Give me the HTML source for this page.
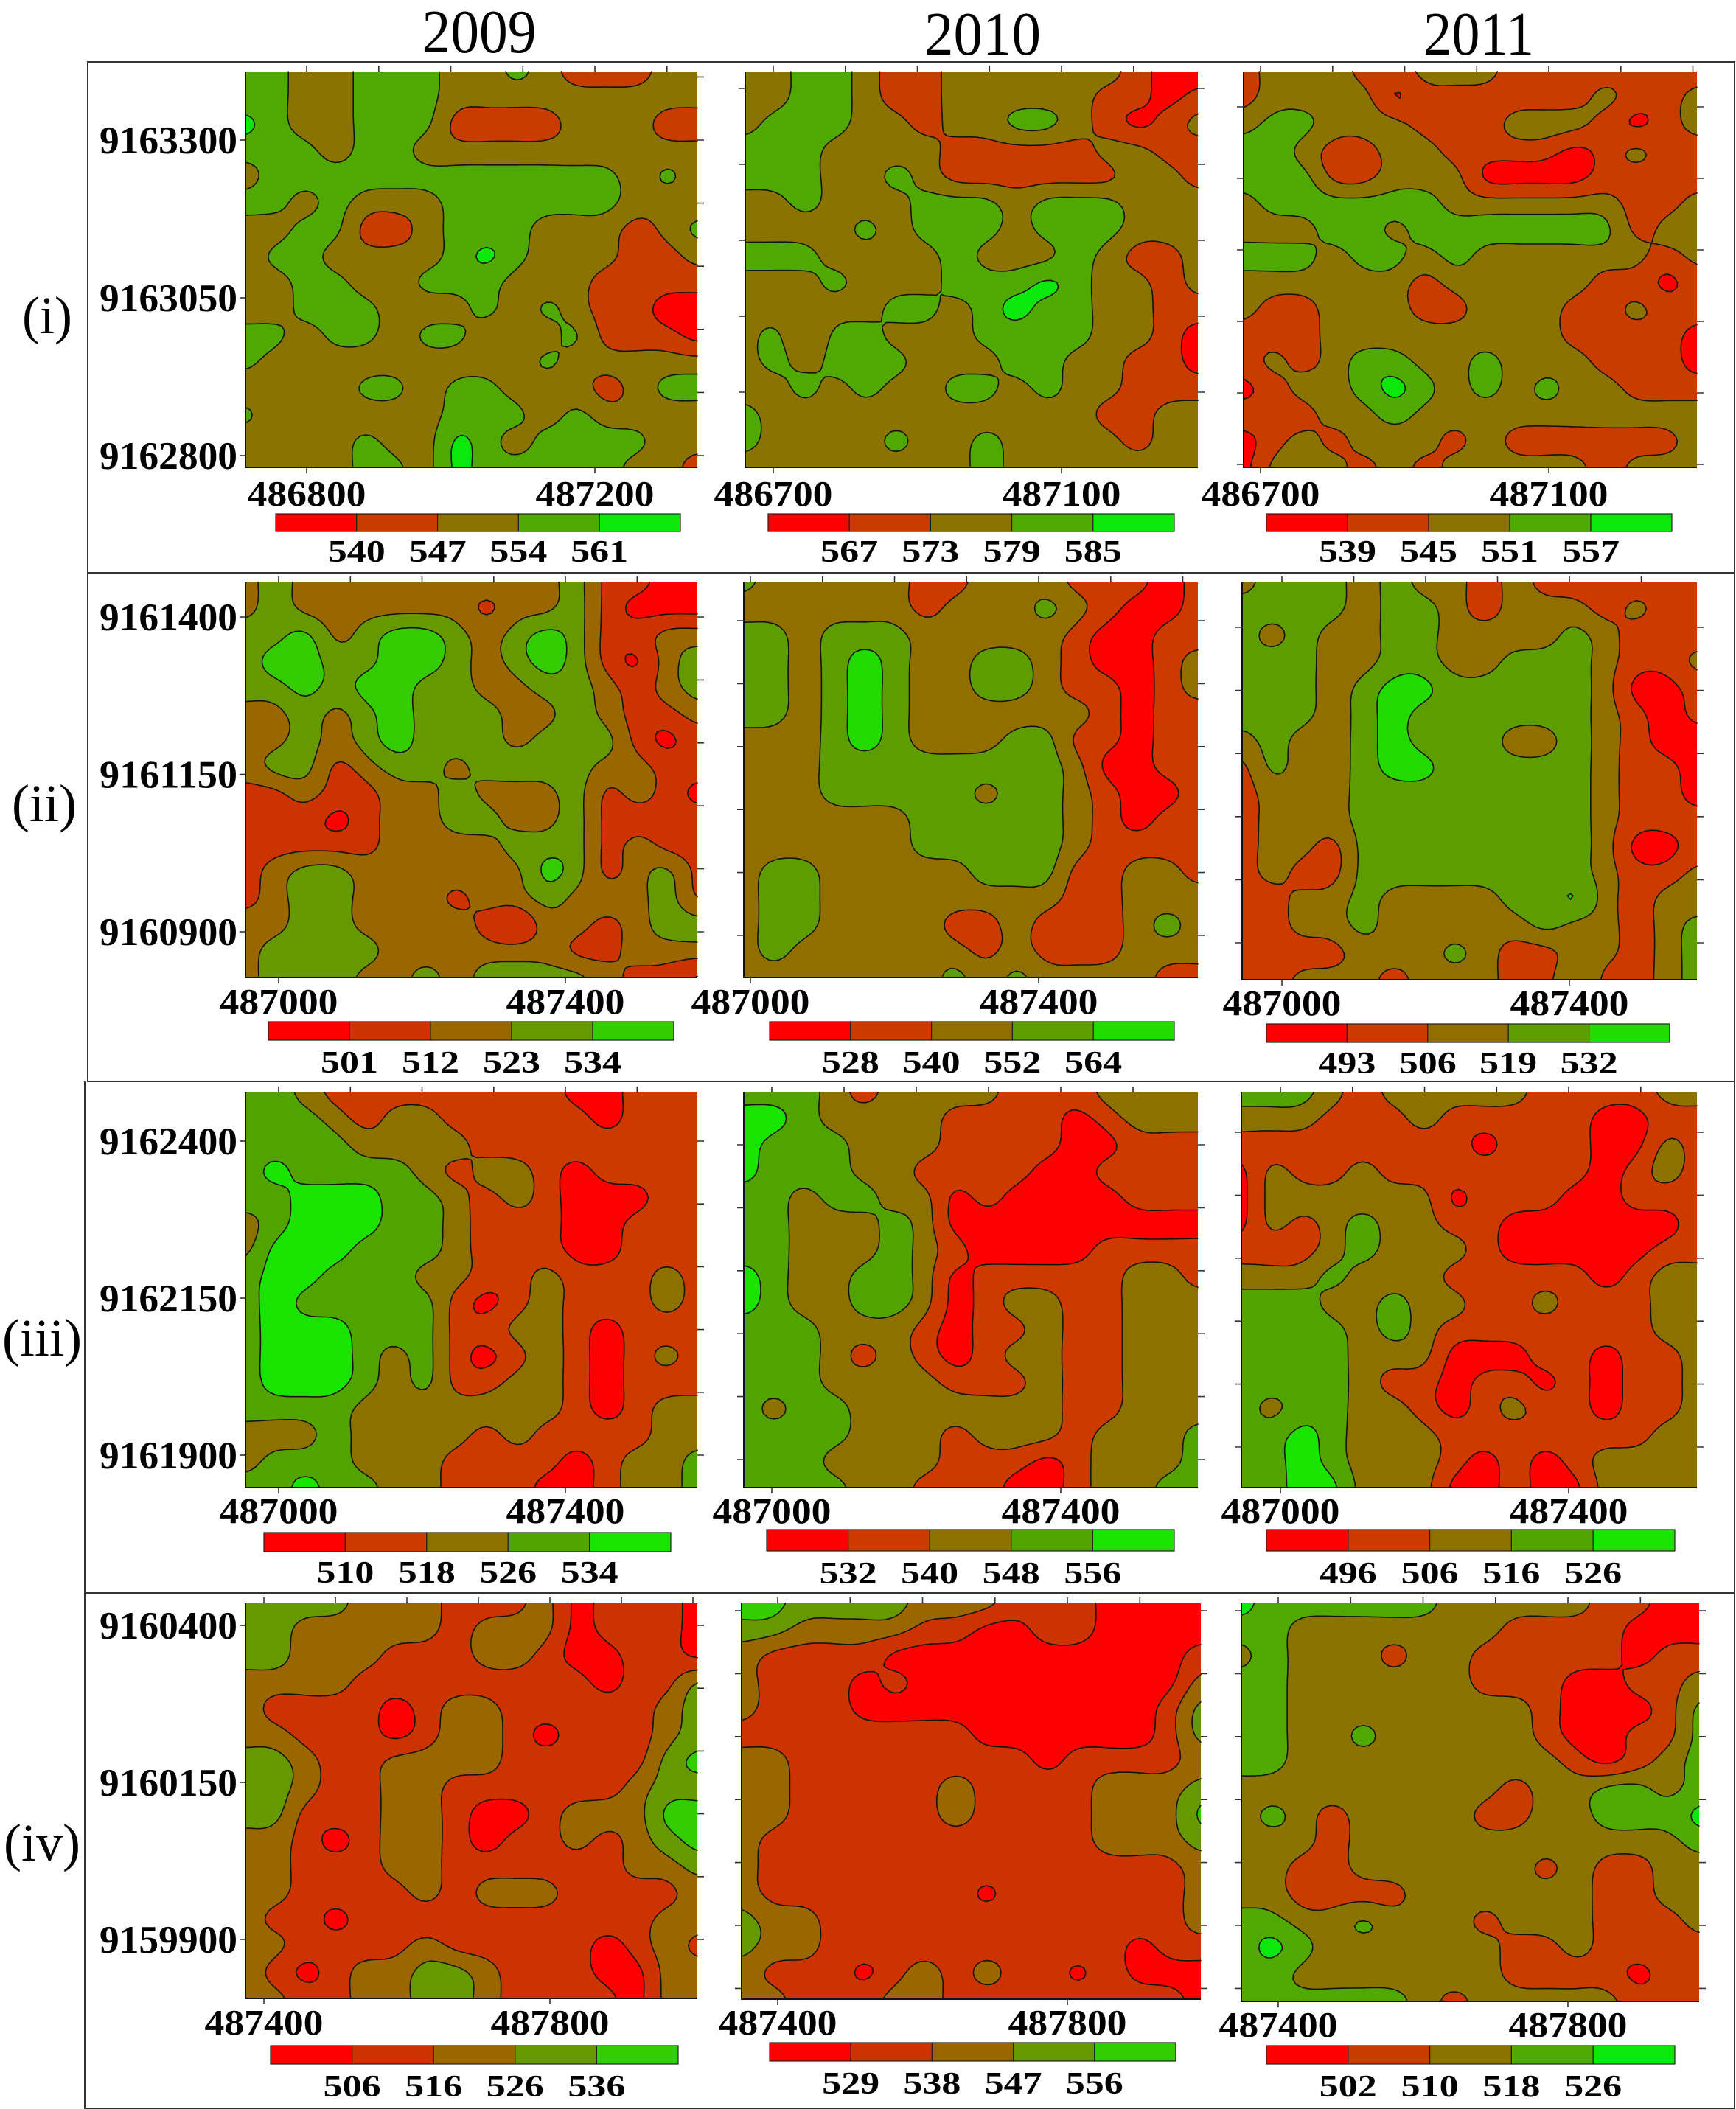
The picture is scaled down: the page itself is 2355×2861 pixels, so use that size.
<!DOCTYPE html>
<html lang="en">
<head>
<meta charset="utf-8">
<title>Contour maps 2009–2011</title>
<style>
html,body{margin:0;padding:0;background:#fff;}
svg{display:block;}
text{font-family:"Liberation Serif",serif;fill:#000;}
.tick-label{font-weight:bold;}
</style>
</head>
<body>
<svg id="figure" xmlns="http://www.w3.org/2000/svg" width="2355" height="2861" viewBox="0 0 2355 2861">
<rect x="0" y="0" width="2355" height="2861" fill="#fff"/>
<g stroke="#333" stroke-width="2" fill="none">
<path d="M119 84H2353V777H119Z"/>
<path d="M119 777V1467H2353V777"/>
<path d="M115 1467V2161H2353V1467"/>
<path d="M115 2161V2860H2353V2161"/>
</g>
<text x="650" y="71" font-size="84" text-anchor="middle" textLength="155" lengthAdjust="spacingAndGlyphs">2009</text>
<text x="1333" y="74" font-size="84" text-anchor="middle" textLength="158" lengthAdjust="spacingAndGlyphs">2010</text>
<text x="2006" y="74" font-size="84" text-anchor="middle" textLength="150" lengthAdjust="spacingAndGlyphs">2011</text>
<text x="64" y="452" font-size="72" text-anchor="middle">(i)</text>
<text x="60" y="1114" font-size="72" text-anchor="middle">(ii)</text>
<text x="57" y="1839" font-size="72" text-anchor="middle">(iii)</text>
<text x="57" y="2524" font-size="72" text-anchor="middle">(iv)</text>
</svg>
<script>
const values_i_2009=[
[557,557,550,550,557,557,557,550,550,557,550,543,543,543,550,550],
[557,557,550,550,557,557,557,550,550,550,550,550,550,550,550,550],
[564,557,550,550,557,557,557,543,543,543,543,550,550,550,543,543],
[557,557,557,550,557,557,550,550,550,550,550,550,550,550,550,550],
[550,557,557,557,557,557,557,557,557,557,557,557,557,550,557,550],
[557,557,550,557,550,550,550,557,557,557,557,557,557,550,550,550],
[550,550,557,557,543,543,550,557,557,557,550,550,550,543,550,557],
[550,557,557,550,550,550,550,557,564,557,550,550,550,543,543,550],
[550,550,557,557,550,550,557,557,557,550,550,550,543,543,543,543],
[550,550,557,557,557,550,550,550,557,550,557,550,543,543,536,536],
[557,557,550,557,557,550,557,557,550,550,550,557,543,543,543,536],
[557,550,550,550,550,550,550,550,550,550,557,550,550,550,550,550],
[550,550,550,550,557,557,550,557,557,550,550,550,543,550,557,557],
[557,550,550,550,550,550,550,557,557,557,550,557,550,550,550,550],
[550,550,550,550,557,550,550,564,557,550,557,557,557,557,550,550],
[550,550,550,550,557,557,550,564,557,557,557,557,557,550,550,543]];
const values_i_2010=[
[576,576,582,582,576,570,570,576,576,576,576,576,576,570,564,564],
[576,576,582,582,576,570,570,576,576,576,576,576,570,570,564,570],
[576,582,582,582,576,576,570,576,576,582,582,576,570,564,570,576],
[582,582,582,576,576,576,576,570,570,570,570,570,576,576,570,570],
[582,582,582,576,576,582,576,570,570,570,570,570,570,576,576,570],
[576,576,582,576,576,576,582,582,582,576,582,582,582,576,576,576],
[576,576,576,576,582,576,582,582,582,576,582,582,582,576,576,576],
[582,582,582,576,576,576,576,582,576,576,576,582,576,570,570,576],
[576,576,576,582,576,576,576,582,582,582,588,582,576,576,570,576],
[576,576,576,576,576,582,582,576,582,588,582,582,576,576,570,570],
[576,582,570,582,582,576,576,576,582,582,582,582,576,576,570,564],
[576,582,576,582,582,582,576,576,576,582,582,576,576,570,570,564],
[576,576,582,576,582,576,576,582,582,576,582,576,576,570,570,570],
[582,576,576,576,576,576,576,576,576,576,576,576,570,570,576,576],
[582,576,576,576,576,582,576,576,582,576,576,576,576,570,576,576],
[576,576,576,576,576,576,576,576,582,576,576,576,576,576,576,576]];
const values_i_2011=[
[542,548,548,548,542,542,548,548,548,542,542,542,542,542,542,542],
[542,548,548,548,548,536,542,542,542,542,542,542,548,542,542,548],
[548,554,554,548,548,548,542,542,542,548,548,548,542,536,542,548],
[554,554,548,542,542,548,548,542,542,542,542,536,542,548,542,542],
[554,554,554,542,542,548,548,548,536,536,536,536,542,542,542,542],
[548,554,554,554,554,554,554,548,548,548,548,548,548,542,542,548],
[548,548,548,554,554,548,554,554,554,554,554,554,554,542,548,548],
[554,554,554,548,554,554,548,554,548,548,548,548,548,548,542,548],
[548,548,548,548,548,548,542,548,548,548,548,548,542,542,536,542],
[548,542,542,548,548,548,542,542,548,548,548,542,542,548,542,542],
[542,542,542,548,548,548,548,548,548,548,548,542,542,542,542,536],
[542,548,542,548,554,554,548,548,554,548,548,548,542,542,542,536],
[536,542,548,548,554,560,554,548,554,548,554,548,548,542,542,542],
[542,542,542,548,548,554,548,548,548,548,548,548,548,548,548,548],
[536,542,548,542,548,548,548,542,548,542,542,542,542,542,542,548],
[536,548,548,548,542,548,542,548,548,548,548,548,542,548,548,548]];
const values_ii_2009=[
[518,529,518,518,518,518,518,518,518,518,518,529,507,507,496,496],
[518,529,518,518,518,518,518,518,507,518,518,529,507,496,496,496],
[529,529,540,518,529,540,540,529,518,529,540,529,507,507,518,518],
[529,540,540,529,529,540,540,529,518,529,540,529,507,496,518,529],
[529,529,540,529,540,540,529,529,518,518,529,529,518,507,518,529],
[518,518,529,518,529,540,529,529,529,518,518,529,518,507,507,518],
[518,518,529,518,529,540,529,529,529,518,529,529,529,507,496,507],
[518,529,529,507,518,529,529,518,529,529,529,529,518,518,507,507],
[507,507,518,507,507,518,518,529,518,518,518,529,507,518,507,496],
[507,507,507,496,507,518,518,529,529,518,518,529,507,507,507,507],
[507,507,507,507,507,518,518,518,518,529,529,529,507,518,507,507],
[507,518,529,529,518,518,518,518,518,518,540,529,507,518,529,507],
[507,518,529,529,518,518,518,507,518,518,529,518,518,518,529,507],
[518,518,529,529,518,518,518,518,507,496,518,518,507,518,529,529],
[518,529,529,529,529,518,518,518,518,518,518,507,507,518,518,518],
[518,529,529,529,518,518,529,518,529,529,529,529,518,507,507,496]];
const values_ii_2010=[
[558,546,546,546,546,546,534,534,546,546,546,534,534,534,522,534],
[546,546,546,546,546,546,534,546,546,546,558,546,534,522,522,534],
[558,558,546,558,558,558,546,546,546,546,546,534,522,522,534,534],
[558,558,546,558,570,558,546,546,558,558,546,534,522,522,534,546],
[558,558,546,558,570,558,546,546,558,558,546,534,534,522,534,546],
[558,558,546,558,570,558,546,546,546,546,546,546,534,522,534,534],
[546,546,546,558,570,558,546,546,546,558,558,534,534,522,534,534],
[546,546,546,558,558,558,558,558,558,558,558,546,522,522,534,534],
[546,546,546,558,558,558,558,558,546,558,558,546,534,522,522,534],
[546,546,546,546,546,546,558,558,558,558,558,546,534,522,534,534],
[546,546,546,546,546,546,558,558,558,558,558,546,534,534,534,534],
[546,558,558,546,546,546,546,546,558,558,558,534,534,546,546,534],
[546,558,558,546,546,546,546,546,546,546,546,534,534,546,546,546],
[546,558,558,546,546,546,546,534,534,546,534,534,534,546,558,546],
[546,558,546,546,546,546,546,546,534,546,534,534,534,546,546,546],
[546,546,546,546,546,546,546,558,546,558,546,546,546,546,534,534]];
const values_ii_2011=[
[512,525,525,525,512,525,512,512,499,512,499,499,499,499,499,499],
[525,525,525,525,512,525,525,512,499,512,512,512,499,512,499,499],
[525,512,525,512,512,525,525,512,512,512,512,525,512,499,499,499],
[525,525,525,512,512,525,525,512,512,525,525,525,512,499,499,512],
[525,525,525,512,525,538,538,525,525,525,525,525,512,486,486,499],
[525,525,525,512,525,538,525,525,525,525,525,525,512,499,486,499],
[512,525,512,512,525,538,525,525,525,512,512,525,512,499,486,486],
[499,525,512,512,525,538,538,525,525,525,525,525,512,499,499,486],
[499,512,512,512,525,525,525,525,525,525,525,525,512,499,499,486],
[499,512,512,512,525,525,525,525,525,525,525,525,512,499,499,499],
[499,512,512,499,525,525,525,525,525,525,525,525,512,486,486,499],
[499,512,499,499,525,525,525,525,525,525,525,525,512,499,499,512],
[499,499,512,512,525,512,512,512,512,525,525,538,512,499,512,512],
[499,499,512,512,525,512,512,512,512,512,525,512,512,499,512,525],
[499,499,499,499,512,512,512,525,512,499,499,512,512,499,512,525],
[499,499,512,512,512,499,512,512,512,499,499,525,499,499,512,525]];
const values_iii_2009=[
[530,530,522,514,514,514,514,514,514,514,514,506,506,514,514,514],
[530,530,530,522,514,522,522,514,514,514,514,514,506,514,514,514],
[530,530,530,530,522,522,522,522,514,514,514,514,514,514,514,514],
[530,538,530,530,530,530,522,514,522,522,514,506,514,514,514,514],
[530,530,538,538,538,530,530,522,514,522,514,506,506,506,514,514],
[522,530,538,538,538,530,530,522,514,514,514,506,506,514,514,514],
[522,538,538,538,530,530,530,522,514,514,514,506,506,514,514,514],
[530,538,538,530,530,530,522,522,514,514,522,514,514,514,522,514],
[530,538,530,530,530,530,530,514,506,514,522,514,514,514,522,514],
[530,538,538,538,530,530,530,514,514,522,522,514,506,514,514,514],
[530,538,538,538,530,522,530,514,506,514,522,514,506,514,522,514],
[530,538,538,538,530,522,530,514,514,522,522,514,506,514,514,514],
[530,530,530,530,522,522,522,522,522,522,522,514,506,514,522,522],
[522,522,522,530,522,522,522,522,514,522,514,514,514,514,522,522],
[522,530,530,530,522,522,522,514,514,514,514,506,514,522,522,530],
[530,530,538,530,530,522,522,514,514,514,506,506,514,522,522,530]];
const values_iii_2010=[
[552,552,552,544,536,544,544,544,544,536,536,536,544,544,544,544],
[560,560,552,544,544,544,544,536,536,536,536,528,536,544,544,544],
[560,552,552,552,544,544,544,536,536,536,536,528,528,536,536,536],
[560,552,552,552,544,544,536,536,536,536,528,528,536,536,536,536],
[552,552,544,552,552,544,544,528,536,528,528,528,528,536,536,536],
[552,552,544,544,544,552,544,528,528,528,528,528,528,528,528,528],
[552,552,544,544,544,552,544,536,528,528,528,528,536,536,536,536],
[560,552,544,544,552,552,544,528,536,536,536,536,536,544,544,536],
[560,552,544,544,552,552,544,528,536,544,544,536,536,544,544,544],
[552,552,552,544,544,544,536,528,536,536,544,536,536,544,544,544],
[552,552,552,544,536,544,536,528,536,544,544,536,536,544,544,544],
[552,552,552,544,544,544,544,536,536,536,544,536,536,544,544,544],
[552,544,552,552,544,544,544,544,544,544,544,536,536,544,544,544],
[552,552,552,552,544,544,544,536,544,544,544,536,544,544,544,552],
[552,552,552,544,544,544,544,536,536,536,528,536,544,544,544,552],
[552,552,552,552,544,544,536,536,536,528,528,536,544,544,552,552]];
const values_iii_2011=[
[521,521,521,511,501,511,511,511,511,511,501,501,501,501,511,511],
[511,511,511,501,501,501,511,501,501,501,501,501,491,491,501,501],
[501,501,501,501,501,501,501,501,491,501,501,501,491,491,511,501],
[491,511,501,501,511,501,501,501,501,501,501,501,491,501,511,501],
[491,511,511,511,511,511,511,491,501,501,501,491,491,501,501,501],
[491,511,501,511,521,511,511,501,501,491,491,491,491,491,491,501],
[501,501,501,511,521,511,511,511,501,491,491,491,491,491,501,501],
[511,511,511,521,511,511,511,501,501,501,501,501,491,501,511,511],
[521,521,521,511,511,521,511,511,501,501,511,501,501,501,511,511],
[521,521,521,521,511,521,511,501,501,501,501,501,501,501,511,511],
[521,521,521,521,511,511,511,491,491,491,501,501,491,501,501,511],
[521,521,521,521,511,501,501,491,501,501,491,501,491,501,501,511],
[521,511,521,521,511,511,501,491,501,511,501,501,491,501,501,511],
[521,521,531,521,511,511,511,501,501,501,501,501,501,501,511,511],
[521,521,531,521,511,511,511,501,491,501,491,501,511,511,511,511],
[521,521,531,531,511,511,511,491,491,501,491,491,511,511,511,511]];
const values_iv_2009=[
[531,531,531,531,521,521,521,511,511,511,521,501,511,511,511,501],
[531,531,521,521,521,521,521,511,521,521,521,501,511,511,511,501],
[531,531,521,521,521,511,511,511,521,521,511,501,501,511,511,501],
[521,521,521,521,511,511,511,511,511,511,511,511,501,511,511,531],
[521,511,511,511,511,501,511,521,521,511,511,511,511,511,521,531],
[521,521,511,511,511,501,511,521,521,511,501,511,511,511,521,531],
[531,531,521,511,511,521,521,521,521,511,511,511,511,511,531,541],
[531,531,521,511,511,521,521,511,511,511,511,511,511,521,531,531],
[531,531,511,511,511,521,521,511,501,501,511,521,521,521,541,541],
[521,521,511,501,511,521,521,511,501,511,511,521,511,521,531,541],
[521,521,511,511,511,521,521,511,511,511,511,511,511,521,521,531],
[521,521,511,511,511,511,521,511,521,521,521,511,511,511,511,521],
[521,511,511,501,511,511,511,511,511,511,511,511,511,511,521,521],
[521,521,511,511,511,511,521,511,511,511,511,511,501,511,521,511],
[521,511,501,511,521,521,531,531,521,511,511,511,501,501,521,521],
[521,521,511,511,521,521,531,531,521,511,511,511,511,501,521,521]];
const values_iv_2010=[
[561,561,552,552,552,552,543,543,543,534,534,534,525,525,525,525],
[552,552,543,543,543,543,534,534,525,525,534,534,525,525,525,525],
[543,534,534,534,534,525,525,525,525,525,525,525,525,525,525,534],
[543,534,534,534,525,534,525,525,525,525,525,525,525,525,525,543],
[543,534,534,534,525,525,525,525,525,525,525,525,525,525,534,552],
[534,534,534,534,534,534,534,534,525,525,525,525,525,525,534,552],
[543,543,534,534,534,534,534,534,534,534,525,534,534,534,534,543],
[543,543,534,534,534,534,534,543,534,534,534,534,543,543,543,552],
[543,543,534,534,534,534,534,543,534,534,534,534,543,543,543,561],
[543,534,534,534,534,534,534,534,534,534,534,534,543,543,543,552],
[543,534,534,534,534,534,534,534,534,534,534,534,534,534,534,543],
[543,534,534,534,534,534,534,534,525,534,534,534,534,534,534,543],
[552,543,543,534,534,534,534,534,534,534,534,534,534,534,534,543],
[552,543,543,534,534,534,534,534,534,534,534,534,534,525,534,534],
[543,534,534,534,525,534,543,534,543,534,534,525,534,525,525,525],
[543,543,534,534,534,543,543,534,534,534,534,534,534,534,534,525]];
const values_iv_2011=[
[530,522,522,522,522,522,522,514,514,514,514,514,506,506,498,498],
[522,522,514,514,514,514,514,514,514,506,506,506,506,498,498,498],
[514,522,514,514,514,506,514,514,506,506,506,506,506,498,506,506],
[522,522,514,514,514,514,514,514,506,506,506,498,498,506,506,514],
[522,522,514,514,514,514,514,514,514,514,506,498,498,498,506,522],
[522,522,514,514,522,514,514,514,514,514,506,498,498,506,506,522],
[522,522,514,514,514,514,514,514,514,514,514,506,498,506,514,522],
[514,514,514,514,514,514,514,514,514,506,514,514,522,522,514,522],
[514,522,514,506,514,514,514,514,506,506,514,514,522,522,522,530],
[514,514,514,506,514,514,514,514,514,514,514,514,514,514,514,522],
[514,514,506,506,514,514,514,514,514,514,506,514,506,506,514,514],
[514,514,506,506,506,506,514,514,514,514,514,514,506,506,514,514],
[522,522,514,514,522,514,514,514,506,514,514,514,506,506,506,514],
[522,530,522,514,514,514,514,514,514,506,506,514,506,506,506,506],
[522,522,514,514,514,514,514,514,514,506,506,506,506,498,506,506],
[522,522,522,522,522,522,514,506,514,514,514,514,514,506,506,506]];

const levels_i_2009=[540,547,554,561];
const levels_i_2010=[567,573,579,585];
const levels_i_2011=[539,545,551,557];
const levels_ii_2009=[501,512,523,534];
const levels_ii_2010=[528,540,552,564];
const levels_ii_2011=[493,506,519,532];
const levels_iii_2009=[510,518,526,534];
const levels_iii_2010=[532,540,548,556];
const levels_iii_2011=[496,506,516,526];
const levels_iv_2009=[506,516,526,536];
const levels_iv_2010=[529,538,547,556];
const levels_iv_2011=[502,510,518,526];

const eastingLabels_i_2009=[486800,487200];
const eastingLabels_i_2010=[486700,487100];
const eastingLabels_i_2011=[486700,487100];
const eastingLabels_ii=[487000,487400];
const eastingLabels_iii=[487000,487400];
const eastingLabels_iv=[487400,487800];
const northingLabels_i=[9163300,9163050,9162800];
const northingLabels_ii=[9161400,9161150,9160900];
const northingLabels_iii=[9162400,9162150,9161900];
const northingLabels_iv=[9160400,9160150,9159900];

// ---------- styling and layout (not data) ----------
const paletteA=['#ff0000','#c83c00','#8a7300','#4fa900','#0be80b'];
const paletteB=['#ff0000','#cc3a00','#916e00','#5c9e00','#22da00'];
const paletteC=['#ff0000','#cc3300','#996600','#669900','#33cc00'];
const paletteD=['#ff0000','#cc3a00','#8c7000','#52a300','#18e400'];

const panelLayout=[
{name:'i-2009',values:values_i_2009,levels:levels_i_2009,palette:paletteA,east:eastingLabels_i_2009,north:northingLabels_i,box:[333,946,97,634],ex:[416,807],ny:[190,618],lx:[374,923],ly:[697,721],xb:686,lb:762,left:true},
{name:'i-2010',values:values_i_2010,levels:levels_i_2010,palette:paletteA,east:eastingLabels_i_2010,north:northingLabels_i,box:[1011,1625,97,634],ex:[1049,1440],ny:[120,635],lx:[1042,1593],ly:[697,721],xb:686,lb:762},
{name:'i-2011',values:values_i_2011,levels:levels_i_2011,palette:paletteA,east:eastingLabels_i_2011,north:northingLabels_i,box:[1687,2302,97,634],ex:[1710,2101],ny:[145,630],lx:[1718,2268],ly:[697,721],xb:686,lb:762},
{name:'ii-2009',values:values_ii_2009,levels:levels_ii_2009,palette:paletteC,east:eastingLabels_ii,north:northingLabels_ii,box:[333,946,790,1326],ex:[378,767],ny:[837,1264],lx:[364,914],ly:[1386,1411],xb:1375,lb:1455,left:true},
{name:'ii-2010',values:values_ii_2010,levels:levels_ii_2010,palette:paletteB,east:eastingLabels_ii,north:northingLabels_ii,box:[1009,1625,790,1326],ex:[1018,1409],ny:[842,1269],lx:[1044,1593],ly:[1386,1411],xb:1375,lb:1455},
{name:'ii-2011',values:values_ii_2011,levels:levels_ii_2011,palette:paletteB,east:eastingLabels_ii,north:northingLabels_ii,box:[1685,2302,790,1329],ex:[1739,2129],ny:[851,1279],lx:[1718,2265],ly:[1389,1414],xb:1377,lb:1456},
{name:'iii-2009',values:values_iii_2009,levels:levels_iii_2009,palette:paletteD,east:eastingLabels_iii,north:northingLabels_iii,box:[333,946,1482,2018],ex:[378,767],ny:[1548,1974],lx:[358,910],ly:[2079,2105],xb:2066,lb:2147,left:true},
{name:'iii-2010',values:values_iii_2010,levels:levels_iii_2010,palette:paletteD,east:eastingLabels_iii,north:northingLabels_iii,box:[1009,1625,1482,2018],ex:[1047,1439],ny:[1553,1980],lx:[1040,1593],ly:[2075,2104],xb:2066,lb:2148},
{name:'iii-2011',values:values_iii_2011,levels:levels_iii_2011,palette:paletteD,east:eastingLabels_iii,north:northingLabels_iii,box:[1684,2302,1482,2018],ex:[1737,2128],ny:[1536,1963],lx:[1718,2272],ly:[2075,2104],xb:2066,lb:2148},
{name:'iv-2009',values:values_iv_2009,levels:levels_iv_2009,palette:paletteC,east:eastingLabels_iv,north:northingLabels_iv,box:[333,946,2175,2711],ex:[358,746],ny:[2205,2631],lx:[367,920],ly:[2775,2800],xb:2760,lb:2844,left:true},
{name:'iv-2010',values:values_iv_2010,levels:levels_iv_2010,palette:paletteC,east:eastingLabels_iv,north:northingLabels_iv,box:[1006,1629,2175,2712],ex:[1055,1448],ny:[2185,2612],lx:[1044,1595],ly:[2771,2796],xb:2760,lb:2840},
{name:'iv-2011',values:values_iv_2011,levels:levels_iv_2011,palette:paletteA,east:eastingLabels_iv,north:northingLabels_iv,box:[1684,2305,2175,2715],ex:[1734,2127],ny:[2185,2612],lx:[1718,2272],ly:[2775,2800],xb:2763,lb:2844}
];

const SVGNS='http://www.w3.org/2000/svg';
const root=document.getElementById('figure');
const SUB=6;
const BLUR_RADIUS=2;
const BLUR_PASSES=2;

function make(tag,parent,props){
  const el=document.createElementNS(SVGNS,tag);
  for(const k in props){el.setAttribute(k,props[k]);}
  parent.appendChild(el);
  return el;
}
function linearScale(d0,d1,r0,r1){
  return function(v){return r0+(v-d0)*(r1-r0)/(d1-d0);};
}
function catmull(p0,p1,p2,p3,t){
  return 0.5*((2*p1)+(-p0+p2)*t+(2*p0-5*p1+4*p2-p3)*t*t+(-p0+3*p1-3*p2+p3)*t*t*t);
}
function resample(line,count){
  const out=[];
  const n=line.length-1;
  for(let i=0;i<count;i++){
    const u=i*n/(count-1);
    const k=Math.min(Math.floor(u),n-1);
    const t=u-k;
    const a=line[Math.max(k-1,0)],b=line[k],c=line[k+1],d=line[Math.min(k+2,n)];
    out.push(catmull(a,b,c,d,t));
  }
  return out;
}
function boxLine(line){
  const out=new Array(line.length);
  for(let i=0;i<line.length;i++){
    let s=0;
    for(let j=-BLUR_RADIUS;j<=BLUR_RADIUS;j++){
      s+=line[Math.max(0,Math.min(line.length-1,i+j))];
    }
    out[i]=s/(2*BLUR_RADIUS+1);
  }
  return out;
}
function smooth(grid){
  let g=grid;
  for(let pass=0;pass<BLUR_PASSES;pass++){
    g=g.map(boxLine);
    const H=g.length,W=g[0].length;
    const next=[];
    for(let y=0;y<H;y++){next.push(new Array(W));}
    for(let x=0;x<W;x++){
      const col=[];
      for(let y=0;y<H;y++){col.push(g[y][x]);}
      const b=boxLine(col);
      for(let y=0;y<H;y++){next[y][x]=b[y];}
    }
    g=next;
  }
  return g;
}
function upsample(values){
  const rows=values.length,cols=values[0].length;
  const W=(cols-1)*SUB+1,H=(rows-1)*SUB+1;
  const across=values.map(function(r){return resample(r,W);});
  const grid=[];
  for(let y=0;y<H;y++){grid.push(new Array(W));}
  for(let x=0;x<W;x++){
    const col=resample(across.map(function(r){return r[x];}),H);
    for(let y=0;y<H;y++){grid[y][x]=col[y];}
  }
  return smooth(grid);
}
function contourPaths(grid,level,px,py){
  const H=grid.length,W=grid[0].length;
  let fill='',line='';
  const f=function(n){return n.toFixed(1);};
  for(let y=0;y<H-1;y++){
    let run=-1;
    const ya=py(y),yb=py(y+1);
    for(let x=0;x<W-1;x++){
      const v=[grid[y][x],grid[y][x+1],grid[y+1][x+1],grid[y+1][x]];
      const xa=px(x),xb=px(x+1);
      const c=[[xa,ya],[xb,ya],[xb,yb],[xa,yb]];
      const inside=v.map(function(q){return q>=level;});
      const count=inside.filter(Boolean).length;
      if(count===4){
        if(run<0){run=x;}
        continue;
      }
      if(run>=0){
        fill+='M'+f(px(run))+' '+f(ya)+'H'+f(xa)+'V'+f(yb)+'H'+f(px(run))+'Z';
        run=-1;
      }
      if(count===0){continue;}
      const poly=[],cross=[];
      for(let i=0;i<4;i++){
        const j=(i+1)%4;
        if(inside[i]){poly.push(c[i]);}
        if(inside[i]!==inside[j]){
          const t=(level-v[i])/(v[j]-v[i]);
          const p=[c[i][0]+(c[j][0]-c[i][0])*t,c[i][1]+(c[j][1]-c[i][1])*t];
          poly.push(p);
          cross.push(p);
        }
      }
      fill+='M'+poly.map(function(p){return f(p[0])+' '+f(p[1]);}).join('L')+'Z';
      let pairs=[[0,1]];
      if(cross.length===4){
        pairs=inside[0]?[[0,1],[2,3]]:[[1,2],[3,0]];
      }
      pairs.forEach(function(pr){
        const a=cross[pr[0]],b=cross[pr[1]];
        line+='M'+f(a[0])+' '+f(a[1])+'L'+f(b[0])+' '+f(b[1]);
      });
    }
    if(run>=0){
      fill+='M'+f(px(run))+' '+f(ya)+'H'+f(px(W-1))+'V'+f(yb)+'H'+f(px(run))+'Z';
    }
  }
  return {fill:fill,line:line};
}

panelLayout.forEach(function(p){
  const x0=p.box[0],x1=p.box[1],y0=p.box[2],y1=p.box[3];
  const panel=make('g',root,{});
  
  

  // filled bands and contour lines, all derived from the value grid
  const grid=upsample(p.values);
  const px=linearScale(0,grid[0].length-1,x0,x1);
  const py=linearScale(0,grid.length-1,y0,y1);
  const base=make('rect',panel,{x:x0,y:y0,width:x1-x0,height:y1-y0,fill:p.palette[0]});
  
  
  let lines='';
  p.levels.forEach(function(level,k){
    const c=contourPaths(grid,level,px,py);
    const band=make('path',panel,{d:c.fill,fill:p.palette[k+1]});
    
    
    lines+=c.line;
  });
  const contour=make('path',panel,{d:lines,fill:'none',stroke:'#141408','stroke-width':1.6,'stroke-linecap':'round'});
  
  
  const border=make('path',panel,{d:'M'+x0+' '+y0+'V'+y1+'H'+x1,fill:'none',stroke:'#111','stroke-width':2});
  
  

  // axes
  const xAxis=linearScale(p.east[0],p.east[1],p.ex[0],p.ex[1]);
  const n=p.north;
  const yAxis=linearScale(n[0],n[2],p.ny[0],p.ny[1]);
  const xInv=linearScale(p.ex[0],p.ex[1],p.east[0],p.east[1]);
  const yInv=linearScale(p.ny[0],p.ny[1],n[0],n[2]);
  let tickPath='';
  for(let v=Math.ceil(xInv(x0)/100)*100;v<=xInv(x1);v+=100){
    tickPath+='M'+xAxis(v).toFixed(1)+' '+y0+'v-8';
  }
  for(let v=Math.ceil(yInv(y1)/100)*100;v<=yInv(y0);v+=100){
    tickPath+='M'+x1+' '+yAxis(v).toFixed(1)+'h9';
    if(!p.left){tickPath+='M'+x0+' '+yAxis(v).toFixed(1)+'h-9';}
  }
  p.east.forEach(function(v){tickPath+='M'+xAxis(v).toFixed(1)+' '+y1+'v8';});
  const ticks=make('path',panel,{d:tickPath,stroke:'#333','stroke-width':1.6,fill:'none'});
  
  

  p.east.forEach(function(v){
    const t=make('text',panel,{x:xAxis(v).toFixed(1),y:p.xb,'font-size':49,'text-anchor':'middle','class':'tick-label',textLength:161,lengthAdjust:'spacingAndGlyphs'});
    
    
    t.textContent=v;
  });
  if(p.left){
    n.forEach(function(v){
      const t=make('text',panel,{x:322,y:(yAxis(v)+18).toFixed(1),'font-size':53,'text-anchor':'end','class':'tick-label',textLength:187,lengthAdjust:'spacingAndGlyphs'});
      
      
      t.textContent=v;
      const tk=make('line',panel,{x1:325,x2:x0,y1:yAxis(v).toFixed(1),y2:yAxis(v).toFixed(1),stroke:'#333','stroke-width':1.6});
      
      
    });
  }

  // legend
  const lx0=p.lx[0],lx1=p.lx[1],ly0=p.ly[0],ly1=p.ly[1];
  const step=(lx1-lx0)/p.palette.length;
  const legend=make('g',panel,{});
  
  
  p.palette.forEach(function(col,k){
    const swatch=make('rect',legend,{x:(lx0+k*step).toFixed(1),y:ly0,width:step.toFixed(1),height:ly1-ly0,fill:col,stroke:'#222','stroke-width':1.2});
    
    
  });
  p.levels.forEach(function(level,k){
    const t=make('text',legend,{x:(lx0+(k+1)*step).toFixed(1),y:p.lb,'font-size':42,'text-anchor':'middle','class':'tick-label',textLength:78,lengthAdjust:'spacingAndGlyphs'});
    
    
    t.textContent=level;
  });
});
</script>
</body>
</html>
